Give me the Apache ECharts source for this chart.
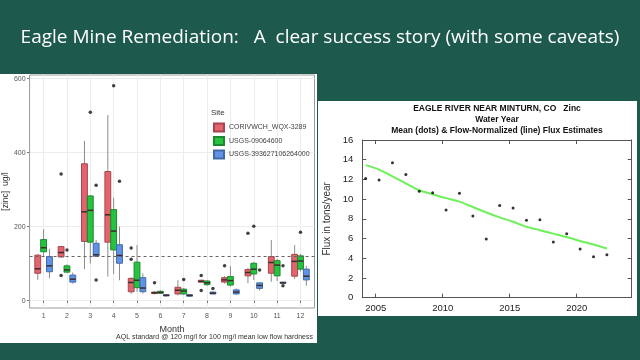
<!DOCTYPE html>
<html><head><meta charset="utf-8">
<script src="https://cdn.jsdelivr.net/npm/echarts@6/dist/echarts.min.js"></script>
<style>html,body{margin:0;padding:0;background:#1d5a4d;}#c{width:640px;height:360px;}</style>
</head><body><div id="c"></div>
<script>
// ---------- Left chart: monthly zinc boxplots ----------
const months = [1,2,3,4,5,6,7,8,9,10,11,12];
const siteNames = ['CORIVWCH_WQX-3289', 'USGS-09064600', 'USGS-393627106264000'];
// [lower whisker, Q1, median, Q3, upper whisker]
const redBox = [[56,74,86,123,125],[116,118,130,146,148],[85,160,240,370,432],[65,158,232,349,502],
  [18,24,49,60,63],[17,19,21,23,26],[14,18,28,36,55],[48,50,52,55,57],[46,50,56,62,66],
  [47,67,76,84,88],[51,74,103,119,164],[58,66,106,125,150]];
const greenBox = [[120,132,143,165,193],[74,77,83,94,98],[100,158,244,283,285],[72,137,188,246,278],
  [24,35,55,104,150],[18,20,22,25,28],[15,18,26,31,34],[40,43,48,53,56],[38,42,54,65,93],
  [56,72,85,101,104],[53,67,96,108,113],[79,85,107,121,126]];
const blueBox = [[60,78,94,119,140],[46,50,58,69,76],[118,120,124,155,164],[55,101,122,151,200],
  [19,24,34,62,74],[11,13,14,16,17],[10,12,14,16,18],[17,18,20,23,25],[16,18,23,29,33],
  [27,33,41,48,50],[46,47,48,50,51],[40,56,66,85,94]];
// outliers: [month, value]
const redOut = [[2,342],[2,68],[5,142],[5,112],[6,48],[8,68],[8,27],[9,94],[10,182]];
const greenOut = [[2,137],[3,509],[4,581],[7,57],[10,201],[12,185]];
const blueOut = [[3,312],[3,56],[4,323],[8,33],[10,83],[11,94],[11,40]];
const zincTicks = [0,200,400,600];
const aqlStandard = 120;

// ---------- Right chart: annual flux ----------
const waterYears = [2004,2005,2006,2007,2008,2009,2010,2011,2012,2013,2014,2015,2016,2017,2018,2019,2020,2021,2022];
const fluxMean = [12.1,11.95,13.7,12.5,10.8,10.65,8.9,10.6,8.3,5.95,9.35,9.1,7.85,7.9,5.65,6.5,4.95,4.15,4.35];
const fluxFN = [13.45,13.0,12.3,11.6,10.9,10.5,10.1,9.75,9.2,8.65,8.15,7.7,7.2,6.85,6.5,6.15,5.75,5.4,5.0];
const yearTicks = [2005,2010,2015,2020];

const fills = ['#e4646e', '#25c33f', '#5f93e6'];
const strokes = ['#a5454d', '#1c8a2f', '#4169a8'];
const dodge = 0.25;
const FONT = '"Liberation Sans", Arial, sans-serif';

function boxSeries(k, boxes) {
  return {
    type: 'custom', name: siteNames[k], xAxisIndex: 0, yAxisIndex: 0,
    itemStyle: { color: fills[k], borderColor: strokes[k], borderWidth: 1 },
    encode: { x: 0, y: [1,2,3,4,5] },
    data: boxes.map((b, i) => [months[i] + (k - 1) * dodge].concat(b)),
    renderItem: function (params, api) {
      const x = api.value(0);
      const w = api.size([dodge, 0])[0];
      const pMin = api.coord([x, api.value(1)]);
      const pQ1 = api.coord([x, api.value(2)]);
      const pMed = api.coord([x, api.value(3)]);
      const pQ3 = api.coord([x, api.value(4)]);
      const pMax = api.coord([x, api.value(5)]);
      const cx = pMin[0];
      return { type: 'group', children: [
        { type: 'line', shape: { x1: cx, y1: pMax[1], x2: cx, y2: pQ3[1] }, style: { stroke: '#8c8c8c', lineWidth: 1 } },
        { type: 'line', shape: { x1: cx, y1: pQ1[1], x2: cx, y2: pMin[1] }, style: { stroke: '#8c8c8c', lineWidth: 1 } },
        { type: 'rect', shape: { x: cx - w / 2, y: pQ3[1], width: w, height: Math.max(pQ1[1] - pQ3[1], 1) },
          style: { fill: fills[k], stroke: strokes[k], lineWidth: 1 } },
        { type: 'line', shape: { x1: cx - w / 2, y1: pMed[1], x2: cx + w / 2, y2: pMed[1] }, style: { stroke: '#3b2b2b', lineWidth: 1.5 } }
      ]};
    }
  };
}

function outSeries(k, outs) {
  return {
    type: 'scatter', name: siteNames[k] + ' outliers', xAxisIndex: 0, yAxisIndex: 0,
    symbolSize: 3.5, itemStyle: { color: '#111' }, silent: true, z: 5,
    data: outs.map(o => [o[0] + (k - 1) * dodge, o[1]])
  };
}

const chart = echarts.init(document.getElementById('c'), null, { renderer: 'canvas' });
const outBlue = outSeries(2, blueOut);
outBlue.markLine = { silent: true, symbol: 'none', label: { show: false },
  lineStyle: { type: [3, 3], color: '#666', width: 1 }, data: [{ yAxis: aqlStandard }] };

chart.setOption({
  backgroundColor: '#1d5a4d',
  animation: false,
  textStyle: { fontFamily: FONT },
  graphic: [
    { type: 'rect', z: -10, shape: { x: 0, y: 74, width: 317, height: 269 }, style: { fill: '#ffffff' } },
    { type: 'rect', z: -10, shape: { x: 318, y: 101, width: 319, height: 215 }, style: { fill: '#ffffff' } },
    { type: 'text', x: 320, y: 38, style: { text: 'Eagle Mine Remediation:   A  clear success story (with some caveats)',
        fill: '#ffffff', font: '19px "Open Sans", sans-serif', textAlign: 'center', textVerticalAlign: 'middle' } },
    { type: 'text', x: 211, y: 113, style: { text: 'Site', fill: '#333', font: '8px ' + FONT, textVerticalAlign: 'middle' } },
    { type: 'text', x: 313, y: 337, style: { text: 'AQL standard @ 120 mg/l for 100 mg/l mean low flow hardness',
        fill: '#333', font: '7px ' + FONT, textAlign: 'right', textVerticalAlign: 'middle' } },
    { type: 'text', x: 497, y: 109, style: { text: 'EAGLE RIVER NEAR MINTURN, CO   Zinc', fill: '#111',
        font: 'bold 8.5px ' + FONT, textAlign: 'center', textVerticalAlign: 'middle' } },
    { type: 'text', x: 497, y: 119.5, style: { text: 'Water Year', fill: '#111',
        font: 'bold 8.5px ' + FONT, textAlign: 'center', textVerticalAlign: 'middle' } },
    { type: 'text', x: 497, y: 130.5, style: { text: 'Mean (dots) & Flow-Normalized (line) Flux Estimates', fill: '#111',
        font: 'bold 8.5px ' + FONT, textAlign: 'center', textVerticalAlign: 'middle' } }
  ],
  legend: {
    data: siteNames, orient: 'vertical', left: 213, top: 122.5, itemWidth: 10, itemHeight: 8, itemGap: 3.5,
    icon: 'rect', selectedMode: false, padding: 0,
    textStyle: { color: '#444', fontSize: 7, fontFamily: FONT, lineHeight: 9 }
  },
  grid: [
    { left: 29.5, top: 75, width: 285, height: 233, show: true, backgroundColor: '#fff', borderColor: '#9a9a9a', borderWidth: 1 },
    { left: 362.3, top: 140, width: 269.4, height: 157.7, show: false }
  ],
  xAxis: [
    { type: 'value', gridIndex: 0, min: 0.4, max: 12.6, splitNumber: 12,
      axisLine: { show: false },
      axisTick: { show: true, length: 2.5, lineStyle: { color: '#777' }, customValues: months },
      axisLabel: { color: '#555', fontSize: 7, margin: 5, customValues: months,
        formatter: v => Number.isInteger(v) ? String(v) : '' },
      splitLine: { show: true, lineStyle: { color: '#ececec', width: 1 } },
      name: 'Month', nameLocation: 'middle', nameGap: 17, nameTextStyle: { color: '#333', fontSize: 9 } },
    { type: 'value', gridIndex: 1, min: 2004, max: 2024.1, splitNumber: 4,
      axisLine: { show: true, onZero: false, lineStyle: { color: '#555', width: 1 } },
      axisTick: { show: true, inside: true, length: 4, lineStyle: { color: '#555' }, customValues: yearTicks },
      axisLabel: { color: '#222', fontSize: 9.5, margin: 6, customValues: yearTicks,
        formatter: v => (v % 5 === 0 ? String(v) : '') },
      splitLine: { show: false } },
    { type: 'value', gridIndex: 1, position: 'top', min: 2004, max: 2024.1, splitNumber: 4,
      axisLine: { show: true, onZero: false, lineStyle: { color: '#555', width: 1 } },
      axisTick: { show: true, inside: true, length: 4, lineStyle: { color: '#555' }, customValues: yearTicks },
      axisLabel: { show: false }, splitLine: { show: false } }
  ],
  yAxis: [
    { type: 'value', gridIndex: 0, min: -20, max: 610, splitNumber: 6,
      axisLine: { show: false },
      axisTick: { show: true, length: 2.5, lineStyle: { color: '#777' }, customValues: zincTicks },
      axisLabel: { color: '#555', fontSize: 7, margin: 4, customValues: zincTicks,
        formatter: v => (v % 200 === 0 ? String(v) : '') },
      splitLine: { show: true, lineStyle: { color: '#ececec', width: 1 } },
      name: '[zinc]  ug/l', nameLocation: 'middle', nameGap: 19, nameTextStyle: { color: '#333', fontSize: 8.5 } },
    { type: 'value', gridIndex: 1, min: 0, max: 16, interval: 2,
      axisLine: { show: true, onZero: false, lineStyle: { color: '#555', width: 1 } },
      axisTick: { show: true, inside: true, length: 4, lineStyle: { color: '#555' } },
      axisLabel: { color: '#222', fontSize: 9.5, margin: 9 },
      splitLine: { show: false },
      name: 'Flux in tons/year', nameLocation: 'middle', nameGap: 30, nameTextStyle: { color: '#333', fontSize: 10 } },
    { type: 'value', gridIndex: 1, position: 'right', min: 0, max: 16, interval: 2,
      axisLine: { show: true, onZero: false, lineStyle: { color: '#555', width: 1 } },
      axisTick: { show: true, inside: true, length: 4, lineStyle: { color: '#555' } },
      axisLabel: { show: false }, splitLine: { show: false } }
  ],
  series: [
    boxSeries(0, redBox), boxSeries(1, greenBox), boxSeries(2, blueBox),
    outSeries(0, redOut), outSeries(1, greenOut), outBlue,
    { type: 'line', name: 'Flow-normalized flux', xAxisIndex: 1, yAxisIndex: 1, symbol: 'none', smooth: 0.3,
      lineStyle: { color: '#6ef05a', width: 2 },
      data: waterYears.map((y, i) => [y + 0.25, fluxFN[i]]) },
    { type: 'scatter', name: 'Mean flux', xAxisIndex: 1, yAxisIndex: 1, symbolSize: 3, z: 5,
      itemStyle: { color: '#000' },
      data: waterYears.map((y, i) => [y + 0.25, fluxMean[i]]) }
  ]
});
</script>
</body></html>
